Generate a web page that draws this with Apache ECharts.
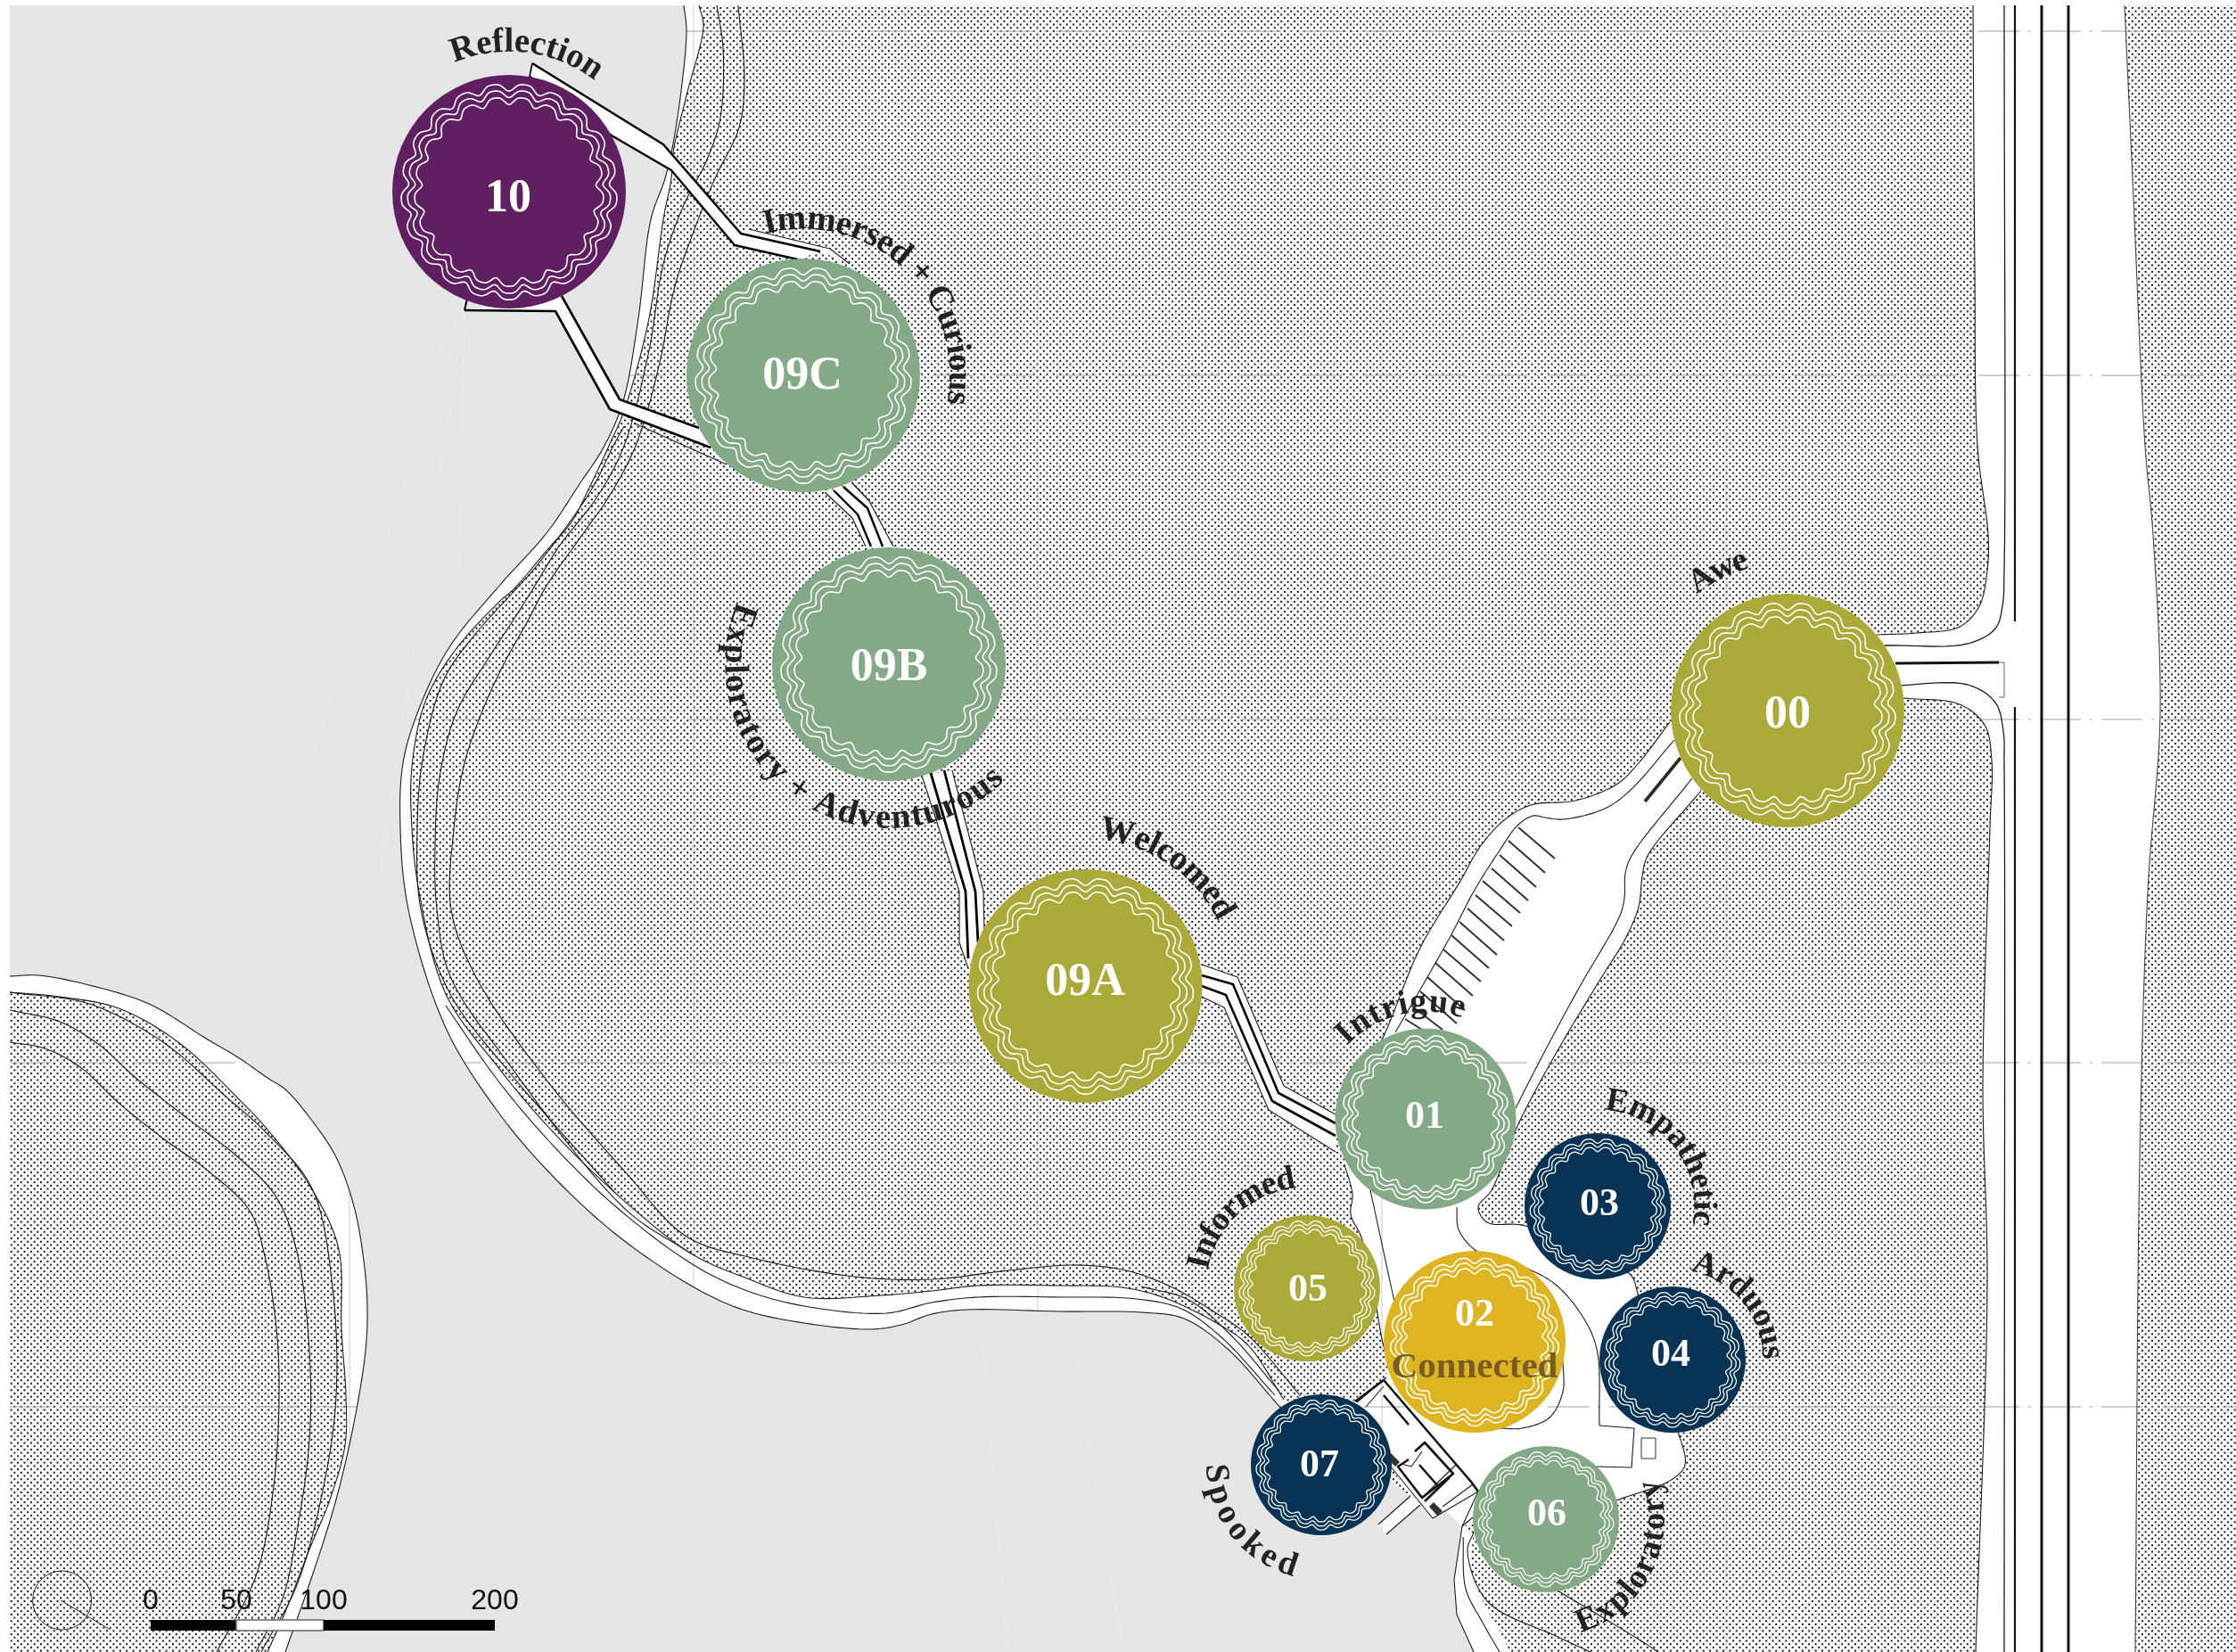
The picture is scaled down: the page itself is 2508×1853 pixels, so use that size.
<!DOCTYPE html>
<html><head><meta charset="utf-8">
<style>html,body{margin:0;padding:0;background:#fff}#c{width:2508px;height:1853px}</style>
<script src="https://cdn.jsdelivr.net/npm/echarts@6/dist/echarts.min.js"></script>
</head><body><div id="c"></div>
<script>
// ---------- experience stops ----------
const stopIds    = ['00','01','02','03','04','05','06','07','09A','09B','09C','10'];
const stopX      = [2005,1599,1654,1792,1876,1466,1734,1482,1217.5,997,901,571];
const stopY      = [797,1255,1505,1353,1525,1445,1704,1643,1106,745,421,215];
const stopR      = [131,101.5,102,82,82,82,82,79,131,131,131,131];
const stopColor  = ['#aba938','#83a987','#deb521','#083355','#083355','#aba938','#83a987','#083355','#aba938','#83a987','#83a987','#5f1f61'];
const stopTextX  = [2005,1598,1654,1794,1874,1467,1735,1480,1217,997,900,570];
const stopTextY  = [803,1254,1476,1352,1521,1448,1700,1645,1103,750,423,224];
const stopFont   = [52,44,44,44,44,44,44,44,52,52,52,52];
// ---------- curved words: text, centre index, baseline radius, start and end angle (clockwise from top) ----------
const wordText   = ['Reflection','Immersed + Curious','Exploratory + Adventurous','Welcomed','Awe','Intrigue','Empathetic','Arduous','Informed','Spooked','Exploratory'];
const wordStop   = ['10','09C','09B','09A','00','01','03','04','05','07','06'];
const wordRadius = [158,165,183,166,166,121,109,102,114,128,132];
const wordStart  = [-23,-15,292.5,5,-38,-47,4,11.5,-80,270,163];
const wordEnd    = [37.6,101,135,64,-15,20,101,90,-6,194,70];
// ---------- scale bar ----------
const scaleTicks = [0,50,100,200];
const scaleX     = [169,265,363,555];
// ---------- survey grid ----------
const gridX = [392,778,1164,1550,1936];
const gridY = [35,421,807,1192,1578];
// ---------- shoreline and land ----------
const shoreMain = [[767,6],[770,36],[757,150],[746,200],[730,246],[716,357],[699,450],[678,500],[650,543],[613,598],[560,657],[504,726],[470,795],[452,856],[449,929],[458,1020],[500,1153],[557,1245],[615,1314],[689,1383],[775,1442],[833,1469],[902,1484],[976,1491],[1011,1486],[1045,1474],[1085,1469],[1189,1471],[1280,1472],[1328,1479],[1377,1513],[1425,1566],[1470,1620]];
const shoreInner = [[784,6],[789,29],[770,107],[755,171],[753,200],[744,246],[728,357],[701,458],[683,500],[662,545],[640,587],[617,613],[577,660],[560,675],[510,730],[477,787],[462,860],[462,929],[470,1000],[500,1115],[557,1195],[615,1264],[689,1337],[775,1406],[833,1432],[902,1455],[988,1453],[1045,1448],[1097,1442],[1189,1442],[1258,1444],[1304,1455],[1361,1482],[1400,1509],[1440,1570]];
const shoreMid = [[500,1128],[557,1210],[615,1279],[689,1352],[775,1417],[833,1446],[902,1465],[994,1473],[1045,1461],[1097,1455],[1189,1455],[1275,1457],[1325,1468],[1370,1500],[1430,1565]];
const lakeTail = [[1546,1650],[1582,1678],[1546,1710],[1555,1721],[1593,1688],[1607,1703],[1620,1693],[1640,1712],[1631,1772],[1634,1811],[1653,1853]];
const islandOuter = [[11,1095],[43,1094],[100,1105],[167,1126],[233,1166],[267,1186],[300,1209],[320,1222],[350,1257],[377,1298],[397,1353],[408,1414],[412,1465],[410,1515],[397,1596],[377,1682],[350,1768],[320,1853]];
const islandInner = [[11,1113],[67,1118],[133,1131],[200,1169],[267,1232],[300,1267],[343,1323],[373,1379],[382,1414],[383,1490],[388,1566],[387,1621],[370,1682],[347,1738],[320,1808],[300,1853]];
const contours = [
 [[828,6],[835,89],[829,143],[802,200],[779,257],[757,321],[739,411],[713,500],[683,557],[653,600],[613,657],[590,700],[565,745],[540,800],[520,860],[509,930],[506,1020],[534,1096],[615,1214],[701,1314],[770,1387],[844,1411],[959,1432],[1045,1435],[1131,1425],[1206,1419],[1263,1425],[1315,1444],[1361,1471],[1400,1498],[1459,1566]],
 [[804,6],[811,54],[808,132],[793,179],[766,232],[744,296],[728,393],[700,500],[670,557],[627,613],[600,657],[578,692],[550,735],[512,799],[493,872],[488,950],[490,1020],[505,1095],[569,1191],[701,1356],[775,1406]],
 [[700,478],[688,500],[667,543],[643,580],[600,637],[573,667],[530,715],[497,764],[474,852],[468,929],[472,1020],[505,1115],[569,1200],[689,1337]],
 [[1280,1443],[1333,1458],[1382,1499],[1435,1561]],
 [[11,1169],[50,1176],[90,1197],[133,1237],[183,1277],[233,1313],[280,1358],[297,1409],[310,1490],[313,1566],[307,1667],[287,1768],[243,1853]],
 [[11,1133],[67,1146],[110,1171],[150,1207],[207,1252],[267,1298],[310,1343],[333,1404],[347,1515],[347,1616],[333,1718],[317,1793],[287,1853]],
 [[11,1113],[100,1126],[183,1169],[250,1227],[300,1272],[350,1333],[373,1444],[377,1566],[363,1667],[333,1778],[293,1853]],
 [[1653,1719],[1646,1739],[1668,1796],[1745,1835],[1784,1853]],
 [[1641,1724],[1644,1782],[1663,1820],[1682,1853]],
 [[1720,1768],[1840,1840],[1860,1853]]
];
const southStrip = [[1640,1712],[1631,1772],[1634,1811],[1653,1853],[1690,1853],[1665,1800],[1650,1760],[1652,1725]];
const lakeRays = [[[521,350],[210,820]],[[521,350],[330,900]],[[521,350],[420,1020]],[[521,350],[505,1150]],[[1560,1760],[1380,1853]],[[1560,1760],[1500,1853]],[[1100,1480],[1130,1853]],[[1200,1480],[1260,1853]]];
// ---------- highway ----------
const roadNorthEdge = [[2213,6],[2215,300],[2218,500],[2230,600],[2229,640],[2220,680],[2198,703],[2150,710],[2105,712]];
const roadSouthEdge = [[2135,783],[2198,790],[2226,813],[2234,853],[2232,928],[2224,1216],[2229,1440],[2216,1853]];
const roadFarEdge = [[2395,1853],[2400,1300],[2409,1000],[2423,800],[2415,600],[2406,500],[2392,200],[2383,6]];
const laneNorth = [[2248,6],[2248,640],[2246,680],[2238,705],[2207,722],[2114,724]];
const laneSouth = [[2114,770],[2207,768],[2238,788],[2247,820],[2248,860],[2248,1853]];
const centreLines = [[[2260,6],[2260,697]],[[2260,793],[2260,1853]],[[2290,6],[2290,1853]],[[2320,6],[2320,1853]]];
const entryBar = [[2126,744],[2242,743]];
const entryGate = [[2242,743],[2248,743],[2248,782],[2242,782]];
// ---------- visitor site ----------
const siteUpper = [[1873,810],[1837,857],[1813,880],[1767,898],[1717,903],[1687,920],[1660,950],[1637,990],[1593,1063],[1553,1160],[1525,1215]];
const siteLeft  = [[1508,1306],[1517,1340],[1515,1362],[1527,1388],[1541,1450],[1552,1510],[1560,1530]];
const siteCorners = [[1552,1548],[1520,1572],[1520,1590],[1560,1645],[1582,1678],[1546,1710],[1555,1721],[1593,1688],[1607,1703],[1620,1693],[1640,1712]];
const siteRight = [[1813,1683],[1876,1659],[1890,1643],[1883,1609],[1871,1580],[1837,1451],[1828,1429],[1711,1375],[1668,1371],[1658,1354],[1673,1335],[1702,1263],[1745,1182],[1794,1100],[1823,1053],[1838,1017],[1842,983],[1848,960],[1908,887]];
const driveLeft  = [[1878,830],[1828,887],[1800,907],[1753,919],[1733,917],[1720,915],[1703,925],[1680,957],[1653,1000],[1627,1050],[1593,1110],[1565,1158]];
const driveRight = [[1898,873],[1830,960],[1823,980],[1822,1007],[1817,1027],[1770,1110],[1727,1190],[1700,1243]];
const driveBar = [[1845,899],[1885,850]];
const stallStart = [[1703,928],[1692,943],[1682,959],[1673,974],[1663,988],[1655,1004],[1646,1019],[1637,1034],[1628,1049],[1619,1065],[1610,1080],[1601,1096],[1593,1112],[1583,1128],[1576,1143]];
const stallEnd   = [[1744,963],[1733,979],[1723,995],[1714,1010],[1705,1024],[1696,1039],[1687,1055],[1679,1071],[1670,1086],[1661,1101],[1652,1117],[1643,1133],[1634,1148],[1618,1155],[1600,1158]];
const sitePaths = [
 [[1537,1335],[1564,1460]],
 [[1634,1354],[1636,1379],[1656,1403],[1711,1422],[1745,1441],[1774,1475],[1791,1513],[1794,1599]],
 [[1753,1527],[1753,1561],[1738,1590],[1707,1602],[1682,1602]]
];
const siteKerb = [[1794,1599],[1833,1602],[1830,1646],[1789,1645]];
const kiosk = [[1841,1613],[1857,1613],[1857,1636],[1841,1636],[1841,1613]];
const buildingThin = [[[1555,1545],[1522,1573]],[[1532,1578],[1552,1555]],[[1560,1645],[1607,1703]],[[1607,1703],[1658,1673]],[[1618,1690],[1652,1665]],[[1633,1643],[1595,1680]],[[1572,1642],[1583,1645],[1595,1628]],[[1546,1710],[1582,1678]],[[1555,1721],[1593,1688]],[[1640,1712],[1652,1702]],[[1658,1673],[1640,1712]]];
const buildingBold = [[[1552,1548],[1650,1662],[1658,1673]],[[1552,1548],[1520,1572]],[[1552,1565],[1580,1598]],[[1587,1628],[1598,1618],[1630,1653],[1595,1680],[1568,1645],[1580,1637]],[[1592,1643],[1613,1667]],[[1626,1657],[1598,1684]]];
const buildingHatch = [[[1560,1630],[1570,1640],[1565,1645],[1555,1635]],[[1608,1685],[1618,1695],[1612,1700],[1603,1690]]];
// ---------- boardwalks ----------
const walkTop   = [[597,71],[744,162],[831,262],[920,282]];
const walkTopB  = [[594,86],[686,152],[753,191],[824,275],[895,291]];
const walkTopC  = [[840,257],[931,279],[953,296]];
const walkLow   = [[630,332],[695,448],[784,480]];
const walkLowB  = [[521,348],[623,349],[684,459],[797,502]];
const walkLowC  = [[712,475],[815,521]];
const walkCap   = [[521,348],[524,335]];
const walk2A = [[946,546],[973,570],[990,613]];
const walk2B = [[925,552],[956,581],[971,613]];
const walk2C = [[935,550],[962,577],[977,613]];
const walk2D = [[956,542],[975,562],[1002,613]];
const walk3A = [[1043,864],[1083,1000],[1086,1075]];
const walk3B = [[1059,864],[1094,1000],[1097,1057]];
const walk3C = [[1034,870],[1076,1000],[1076,1057],[1086,1086]];
const walk3D = [[1068,864],[1103,1000],[1104,1045]];
const walk4A = [[1348,1094],[1383,1104],[1434,1226],[1498,1260]];
const walk4B = [[1348,1106],[1375,1116],[1427,1235],[1498,1274]];
const walk4C = [[1348,1118],[1373,1130],[1423,1245],[1498,1292]];
const walk4D = [[1348,1082],[1388,1096],[1440,1218],[1498,1250]];

// ---------- rendering helpers ----------
function curve(p){ // centripetal Catmull-Rom pass so traced outlines read as smooth curves
  const o=[];
  const tj=(t,a,b)=>t+Math.sqrt(Math.hypot(b[0]-a[0],b[1]-a[1]))||t+1e-3;
  const lerp=(a,b,ta,tb,t)=>[(tb-t)/(tb-ta)*a[0]+(t-ta)/(tb-ta)*b[0],(tb-t)/(tb-ta)*a[1]+(t-ta)/(tb-ta)*b[1]];
  for(let i=0;i<p.length-1;i++){
    const b=p[i],c=p[i+1];
    const a=i>0?p[i-1]:[2*b[0]-c[0],2*b[1]-c[1]];
    const d=i<p.length-2?p[i+2]:[2*c[0]-b[0],2*c[1]-b[1]];
    const t0=0,t1=tj(t0,a,b),t2=tj(t1,b,c),t3=tj(t2,c,d);
    for(let k=0;k<10;k++){const t=t1+(t2-t1)*k/10;
      const A1=lerp(a,b,t0,t1,t),A2=lerp(b,c,t1,t2,t),A3=lerp(c,d,t2,t3,t);
      const B1=lerp(A1,A2,t0,t2,t),B2=lerp(A2,A3,t1,t3,t);
      o.push(lerp(B1,B2,t1,t2,t));}
  }
  o.push(p[p.length-1]);return o;
}
const rev=a=>a.slice().reverse();
const tile=document.createElement('canvas');tile.width=37;tile.height=37;
(function(){const g=tile.getContext('2d');g.fillStyle='#fff';g.fillRect(0,0,37,37);g.fillStyle='#1a1a1a';
  for(let i=-1;i<=5;i++)for(let j=-1;j<=5;j++){[[0,0],[3.7,3.7]].forEach(o=>{g.fillRect(i*7.4+o[0]+.6,j*7.4+o[1]+.6,2,2);});}
})();
const dots={image:tile,repeat:'repeat'};
const LINE='#1c1c1c';
const shapes=[];
const fill=(pts,f)=>shapes.push({pts,fill:f});
const line=(pts,w,c,dash)=>shapes.push({pts,stroke:c||LINE,width:w||1.1,dash});

fill([[11,6],[2508,6],[2508,1853],[11,1853]],dots);
// white land features
fill(curve(shoreMain).concat(rev(curve(shoreInner))),'#fff');
fill(curve(islandOuter).concat(rev(curve(islandInner))),'#fff');
fill(curve(roadNorthEdge).concat(curve(roadSouthEdge),curve(roadFarEdge)),'#fff');
fill(curve(siteUpper).concat(curve(siteLeft),siteCorners,curve(siteRight)),'#fff');
fill(curve(southStrip),'#fff');
// survey grid
gridY.forEach(y=>line([[11,y],[2508,y]],1.4,'rgba(170,170,170,.75)',[46,10,3,10]));
gridX.forEach(x=>line([[x,6],[x,1853]],1,'rgba(170,170,170,.6)'));
// lake
fill(curve(shoreMain).concat(lakeTail,rev(curve(islandOuter)),[[11,6]]),'#e5e5e5');
lakeRays.forEach(p=>line(p,1,'rgba(255,255,255,.2)'));
// outlines
[shoreMain,shoreInner,shoreMid,islandOuter,islandInner,roadNorthEdge,roadSouthEdge,siteUpper,siteLeft,siteRight,driveLeft,driveRight].concat(contours,sitePaths).forEach(p=>line(curve(p)));
line(curve(roadFarEdge),1.1,'#444');
line(curve(laneNorth),1.3);line(curve(laneSouth),1.3);
centreLines.forEach((p,i)=>line(p,i<2?2.2:3,'#111'));
line(entryBar,3,'#111');line(entryGate,1,'#666');
line(driveBar,3.6,'#2a2a2a');
stallStart.forEach((s,i)=>line([s,stallEnd[i]],2,'#333'));
line(siteKerb,1.1);line(kiosk,1,'#333');
buildingThin.forEach(p=>line(p,1.1));buildingBold.forEach(p=>line(p,2.6,'#111'));
buildingHatch.forEach(p=>fill(p,'#333'));
line([[1640,1712],[1631,1772],[1634,1811],[1653,1853]],1.1);
// boardwalks
fill(walkTop.concat(rev(walkTopB)),'#fff');
fill(walkTopC.concat(rev(walkTop.slice(2))),'#fff');
fill(walkLow.concat(rev(walkLowB)),'#fff');
fill(walk2D.concat(rev(walk2B)),'#fff');
fill(walk3D.concat(rev(walk3C)),'#fff');
fill(walk4D.concat(rev(walk4C)),'#fff');
line(walkTop,2.6,'#000');line(walkTopB,2.4,'#000');line(walkTopC,1.1);line(walkLow,2.6,'#000');line(walkLowB,2.6,'#000');line(walkLowC,1.1);line(walkCap,2,'#000');
line([[597,71],[594,86]],1.6,'#000');
line(walk2A,2.4,'#000');line(walk2B,1.1,'#111');line(walk2C,2.4,'#000');line(walk2D,1.1,'#111');
line(walk3A,2.8,'#000');line(walk3B,2.8,'#000');line(walk3C,1.1);line(walk3D,1.1);
line(walk4A,2.6,'#000');line(walk4B,2.6,'#000');line(walk4C,1.1);line(walk4D,1.1);
// north symbol
shapes.push({pts:null,circle:[69.6,1795,33]});
line([[68,1795],[123.5,1828]],1);
// scale bar
fill([[scaleX[0],1817],[scaleX[1],1817],[scaleX[1],1829],[scaleX[0],1829]],'#000');
shapes.push({pts:[[scaleX[1],1817],[scaleX[2],1817],[scaleX[2],1829],[scaleX[1],1829]],closed:true,stroke:'#666',width:1.6});
fill([[scaleX[2],1817],[scaleX[3],1817],[scaleX[3],1829],[scaleX[2],1829]],'#000');

const project=(api,pts)=>pts.map(p=>api.coord(p));
const meas=document.createElement('canvas').getContext('2d');
const SERIF="'Liberation Serif',serif";

const option={
  animation:false,backgroundColor:'#fff',
  grid:{left:0,right:0,top:0,bottom:0,containLabel:false},
  xAxis:{type:'value',min:0,max:2508,show:false},
  yAxis:{type:'value',min:0,max:1853,inverse:true,show:false},
  series:[
   {type:'custom',coordinateSystem:'cartesian2d',silent:true,clip:false,z:1,
    data:shapes.map((s,i)=>[i,0]),encode:{x:0,y:1},
    renderItem(params,api){
      const s=shapes[params.dataIndex];
      if(s.circle){const c=api.coord([s.circle[0],s.circle[1]]);
        return {type:'circle',shape:{cx:c[0],cy:c[1],r:s.circle[2]},style:{fill:'none',stroke:'#222',lineWidth:1}};}
      const pts=project(api,s.pts);
      if(s.fill) return {type:'polygon',shape:{points:pts},style:{fill:s.fill,stroke:null}};
      return {type:s.closed?'polygon':'polyline',shape:{points:pts},style:{fill:s.closed?'#fff':'none',stroke:s.stroke,lineWidth:s.width,lineDash:s.dash,lineJoin:'round'}};
    }},
   {type:'scatter',coordinateSystem:'cartesian2d',silent:true,clip:false,z:2,symbol:'circle',
    data:stopIds.map((id,i)=>({name:id,value:[stopX[i],stopY[i]],symbolSize:stopR[i]*2,itemStyle:{color:stopColor[i],opacity:1}}))},
   {type:'custom',coordinateSystem:'cartesian2d',silent:true,clip:false,z:3,
    data:stopIds.map((id,i)=>[stopX[i],stopY[i]]),encode:{x:0,y:1},
    renderItem(params,api){
      const i=params.dataIndex,c=api.coord([stopX[i],stopY[i]]),R=stopR[i],kids=[];
      [.9,.845,.785].forEach(f=>{
        const pts=[],a=R*.032;
        for(let k=0;k<=420;k++){const t=k/420*2*Math.PI,r=R*f-a*Math.cos(21*t)-a*.22*Math.cos(42*t);
          pts.push([c[0]+r*Math.sin(t),c[1]-r*Math.cos(t)]);}
        kids.push({type:'polyline',shape:{points:pts},style:{fill:'none',stroke:'#fff',lineWidth:R>100?1.6:1.3}});
      });
      kids.push({type:'text',x:stopTextX[i],y:stopTextY[i],style:{text:stopIds[i],font:`bold ${stopFont[i]}px ${SERIF}`,fill:'#fff',textAlign:'center',textVerticalAlign:'middle',align:'center',verticalAlign:'middle'}});
      return {type:'group',children:kids};
    }},
   {type:'custom',coordinateSystem:'cartesian2d',silent:true,clip:false,z:4,
    data:wordText.map((w,i)=>[i,0]),encode:{x:0,y:1},
    renderItem(params,api){
      const i=params.dataIndex,txt=wordText[i],si=stopIds.indexOf(wordStop[i]),c=api.coord([stopX[si],stopY[si]]);
      const size=i<4?39:38,font=`bold ${size}px ${SERIF}`,rad=wordRadius[i];
      meas.font=font;
      const chars=txt.split(''),w=chars.map(ch=>meas.measureText(ch).width),tot=w.reduce((a,b)=>a+b,0);
      const a0=wordStart[i]*Math.PI/180,a1=wordEnd[i]*Math.PI/180,dir=a1>a0?1:-1;
      const arc=Math.abs(a1-a0)*rad,gap=(arc-tot)/Math.max(chars.length-1,1);
      let s=0;const kids=[];
      chars.forEach((ch,k)=>{
        const ang=a0+dir*(s+w[k]/2)/rad;s+=w[k]+gap;
        const rr=rad+dir*size*.24; // middle of the glyph sits off the baseline
        const x=c[0]+rr*Math.sin(ang),y=c[1]-rr*Math.cos(ang);
        kids.push({type:'text',x,y,rotation:dir>0?-ang:-(ang+Math.PI),style:{text:ch,font,fill:'#232323',textAlign:'center',textVerticalAlign:'middle',align:'center',verticalAlign:'middle'}});
      });
      return {type:'group',children:kids};
    }},
   {type:'custom',coordinateSystem:'cartesian2d',silent:true,clip:false,z:5,
    data:[[0,0]],encode:{x:0,y:1},
    renderItem(params,api){
      const kids=scaleTicks.map((t,i)=>{const p=api.coord([scaleX[i],1796]);
        return {type:'text',x:p[0],y:p[1],style:{text:String(t),font:"32px 'Liberation Sans',sans-serif",fill:'#111',textAlign:'center',textVerticalAlign:'middle',align:'center',verticalAlign:'middle'}};});
      const p=api.coord([1654,1534]);
      kids.push({type:'text',x:p[0],y:p[1],style:{text:'Connected',font:`bold 41px ${SERIF}`,fill:'#7a5b24',textAlign:'center',textVerticalAlign:'middle',align:'center',verticalAlign:'middle'}});
      return {type:'group',children:kids};
    }}
  ]
};
const chart=echarts.init(document.getElementById('c'),null,{renderer:'canvas',width:2508,height:1853});
chart.setOption(option);
</script></body></html>
